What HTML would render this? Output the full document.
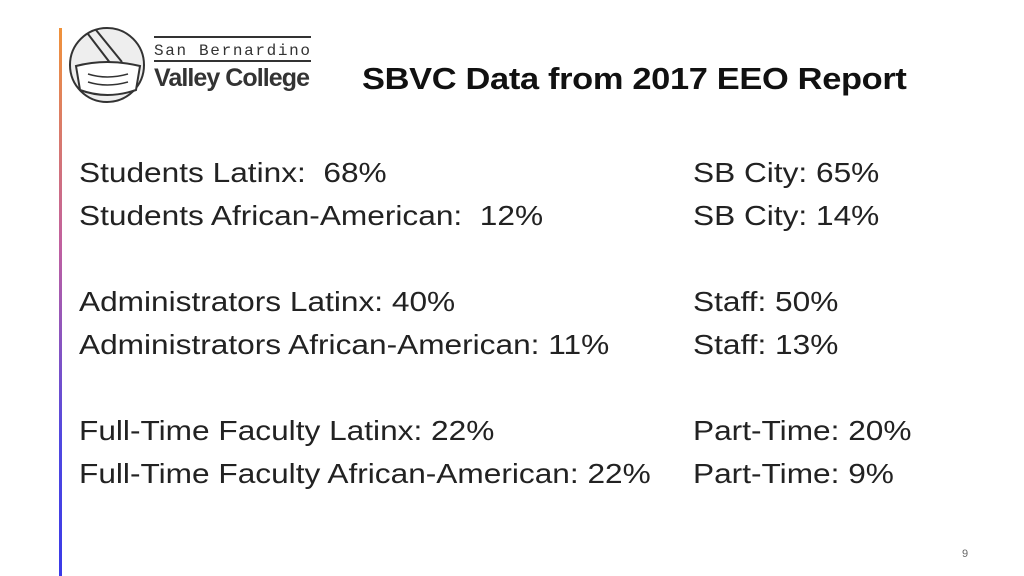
<!DOCTYPE html>
<html><head><meta charset="utf-8"><style>
body{margin:0;width:1024px;height:576px;background:#fff;position:relative;overflow:hidden;font-family:"Liberation Sans",sans-serif;color:#222}
.bar{position:absolute;left:59px;top:28px;width:3px;height:548px;background:linear-gradient(#f0923a,#c060a0 40%,#5048e0 75%,#3a3ae8)}
.t{position:absolute;font-size:27.5px;white-space:nowrap;line-height:30px;transform:scaleX(1.15);transform-origin:left center}
h1{position:absolute;left:362px;top:61px;margin:0;font-size:31px;font-weight:bold;color:#111;white-space:nowrap;letter-spacing:-0.3px;transform:scaleX(1.11);transform-origin:left center}
</style></head><body>
<div class="bar"></div>
<svg style="position:absolute;left:66px;top:24px" width="250" height="86">
<circle cx="41" cy="41" r="37" fill="#eee" stroke="#333" stroke-width="2"/>
<path d="M22 10 L48 44 M30 6 L56 38" stroke="#333" stroke-width="2" fill="none"/>
<path d="M10 42 Q41 34 74 42 L70 66 Q41 76 14 66 Z" fill="#fff" stroke="#333" stroke-width="2"/>
<path d="M22 50 Q41 56 62 50 M22 58 Q41 64 62 58" stroke="#333" stroke-width="1.5" fill="none"/>
<line x1="88" y1="13" x2="245" y2="13" stroke="#333" stroke-width="2"/>
<text x="88" y="31" font-family="Liberation Mono,monospace" font-size="16" fill="#333" textLength="156" lengthAdjust="spacing">San Bernardino</text>
<line x1="88" y1="37" x2="245" y2="37" stroke="#333" stroke-width="2"/>
<text x="88" y="62" font-family="Liberation Sans,sans-serif" font-weight="bold" font-size="25" fill="#333" textLength="156">Valley College</text>
</svg>
<h1>SBVC Data from 2017 EEO Report</h1>
<div class="t" style="left:79px;top:158px">Students Latinx:&nbsp; 68%</div>
<div class="t" style="left:79px;top:201px">Students African-American:&nbsp; 12%</div>
<div class="t" style="left:79px;top:287px">Administrators Latinx: 40%</div>
<div class="t" style="left:79px;top:330px">Administrators African-American: 11%</div>
<div class="t" style="left:79px;top:416px">Full-Time Faculty Latinx: 22%</div>
<div class="t" style="left:79px;top:459px">Full-Time Faculty African-American: 22%</div>
<div class="t" style="left:693px;top:158px">SB City: 65%</div>
<div class="t" style="left:693px;top:201px">SB City: 14%</div>
<div class="t" style="left:693px;top:287px">Staff: 50%</div>
<div class="t" style="left:693px;top:330px">Staff: 13%</div>
<div class="t" style="left:693px;top:416px">Part-Time: 20%</div>
<div class="t" style="left:693px;top:459px">Part-Time: 9%</div>
<div style="position:absolute;left:962px;top:548px;font-size:11px;color:#666">9</div>
</body></html>
